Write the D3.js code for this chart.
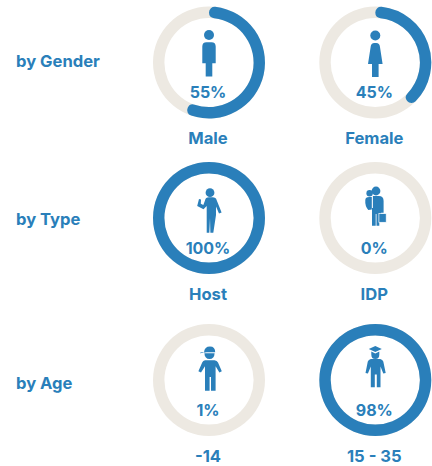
<!DOCTYPE html>
<html>
<head>
<meta charset="utf-8">
<script src="https://cdn.jsdelivr.net/npm/d3@7"></script>
<style>
  html, body { margin: 0; padding: 0; background: #fff; }
  text { font-family: Inter, "Open Sans", sans-serif; font-weight: 700; fill: #2a7fba; }
</style>
</head>
<body>
<svg id="chart" width="432" height="466"></svg>
<script>
const rowLabels = ["by Gender", "by Type", "by Age"];
const categories = ["Male", "Female", "Host", "IDP", "-14", "15 - 35"];
const categoryRows = ["by Gender", "by Gender", "by Type", "by Type", "by Age", "by Age"];
const categoryColumns = [0, 1, 0, 1, 0, 1];
const percentLabels = ["55%", "45%", "100%", "0%", "1%", "98%"];
// share of the ring actually painted blue
const ringShares = [0.57, 0.39, 1, 0, 0, 1];
const icons = ["male", "female", "host", "idp", "child", "student"];

const blue = "#2a7fba";
const ringGrey = "#ede9e2";

const svg = d3.select("#chart");
const rowY = d3.scaleOrdinal().domain(rowLabels).range([62.5, 218, 380]);
const rowLabelY = d3.scaleOrdinal().domain(rowLabels).range([66.5, 225, 389]);
const columnX = d3.scaleOrdinal().domain([0, 1]).range([209, 375.3]);
const shareAngle = d3.scaleLinear().domain([0, 1]).range([0, 2 * Math.PI]);

const innerRadius = 44.6;
const outerRadius = 56;

const ringArc = d3.arc().innerRadius(innerRadius).outerRadius(outerRadius);

// small pictograms, drawn around the centre of each ring
const iconDrawers = {
  male(g) {
    g.append("circle").attr("cx", 0).attr("cy", -27.5).attr("r", 5);
    g.append("path").attr("d", "M-6.7,0.8V-16Q-6.7,-20.3 -2.5,-20.3H2.5Q6.7,-20.3 6.7,-16V0.8H3.3V14H-3.3V0.8Z");
  },
  female(g) {
    g.append("circle").attr("cx", 0).attr("cy", -27).attr("r", 5);
    g.append("path").attr("d", "M-7.3,1.5L-4.6,-16Q-4.2,-19.5 -1,-19.5H1Q4.2,-19.5 4.6,-16L7.3,1.5H3.3V14.5H-3.3V1.5Z");
  },
  host(g) {
    g.append("circle").attr("cx", 1).attr("cy", -25.3).attr("r", 4.4);
    g.append("path").attr("d", "M-4,-17.5Q-3.5,-20.7 0,-20.7H3.5Q7,-20.7 7.6,-18L12.6,-5.5L10,-4.4L7,-11.5V-3L4.3,14.7H1.4L1,0L0.3,14.7H-2.3V-12L-5.5,-8.7L-11.8,-12L-10,-19L-8,-18.5L-8.2,-14.2L-5.7,-13Z");
  },
  idp(g) {
    g.append("circle").attr("cx", 0.7).attr("cy", -27).attr("r", 4.4);
    g.append("circle").attr("cx", -5.7).attr("cy", -24.7).attr("r", 3.2);
    g.append("path").attr("d", "M-10,-18Q-10,-21 -6,-21H-3.5V-8.5L-7,-8Q-10.5,-12 -10,-18Z");
    g.append("path").attr("d", "M-2.4,-22H3.5Q8.3,-22 8.3,-17V-5.2H5.8V-3.5H4V7.7H1.2V-4H0.4V7.7H-3.3V-10H-2.4Z");
    g.append("rect").attr("x", 3.6).attr("y", -4.4).attr("width", 7.3).attr("height", 8.7)
      .attr("stroke", "#fff").attr("stroke-width", 0.7);
  },
  child(g) {
    g.append("path").attr("d", "M-5,-27.6Q-4.5,-33.5 1,-33.5Q6.2,-33.5 6.2,-27.8H-2.4L-9,-26.8Q-9.2,-28 -5,-27.6Z");
    g.append("path").attr("d", "M-4.6,-26.8H5.6Q5.3,-21 0.5,-21Q-4.2,-21 -4.6,-26.8Z");
    g.append("path").attr("d", "M-4,-19.8H5.5Q8,-19.6 9,-17.5L12.8,-8.7L10.4,-7.6L6.6,-13.7V-5V10.7H2V-3H0.6V10.7H-4V-5V-13.7L-8,-7.6L-10.6,-8.7L-6.8,-17.5Q-6,-19.6 -4,-19.8Z");
  },
  student(g) {
    g.append("path").attr("d", "M0,-34L6.5,-31L0,-28L-6.5,-31Z");
    g.append("path").attr("d", "M-4,-28.4L0,-26.6L4,-28.4V-25.5Q4,-21 0,-21Q-4,-21 -4,-25.5Z");
    g.append("path").attr("d", "M-4.5,-21H5Q7.3,-20.5 8,-18.5L10.4,-7L8,-6.4L5.2,-13.5V-7V7.3H1.5V-5.5H-0.5V7.3H-4.5V-7V-13.5L-7.4,-6.4L-9.8,-7L-7.5,-18.5Q-6.8,-20.5 -4.5,-21Z");
  },
};

svg.selectAll(".row-label")
  .data(rowLabels)
  .join("text")
  .attr("class", "row-label")
  .attr("x", 16)
  .attr("y", (d) => rowLabelY(d))
  .attr("font-size", 16.6)
  .text((d) => d);

const cells = svg.selectAll(".cell")
  .data(categories)
  .join("g")
  .attr("class", "cell")
  .attr("transform", (d, i) => `translate(${columnX(categoryColumns[i])},${rowY(categoryRows[i])})`);

cells.append("path")
  .attr("fill", ringGrey)
  .attr("d", ringArc({ startAngle: 0, endAngle: 2 * Math.PI }));

cells.filter((d, i) => ringShares[i] > 0)
  .append("path")
  .attr("fill", blue)
  .attr("d", (d) => {
    const share = ringShares[categories.indexOf(d)];
    return ringArc.cornerRadius(share < 1 ? (outerRadius - innerRadius) / 2 : 0)({
      startAngle: 0,
      endAngle: shareAngle(share),
    });
  });

cells.append("g")
  .attr("fill", blue)
  .each(function (d, i) {
    iconDrawers[icons[i]](d3.select(this));
  });

cells.append("text")
  .attr("text-anchor", "middle")
  .attr("x", -1)
  .attr("y", 35.5)
  .attr("font-size", 16)
  .text((d, i) => percentLabels[i]);

cells.append("text")
  .attr("text-anchor", "middle")
  .attr("x", -1)
  .attr("y", 81.5)
  .attr("font-size", 16.6)
  .text((d) => d);
</script>
</body>
</html>
